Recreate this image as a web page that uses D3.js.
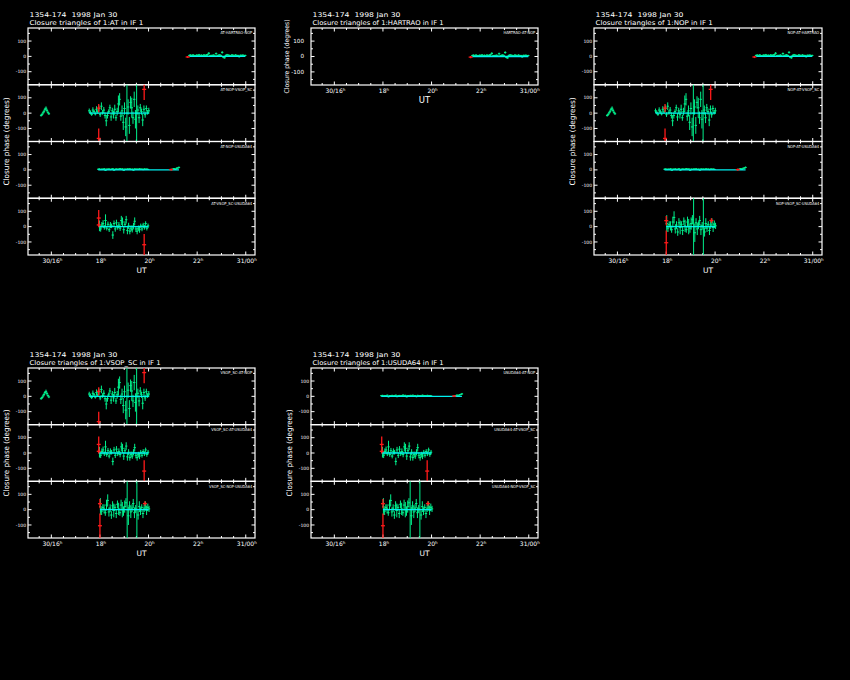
<!DOCTYPE html>
<html><head><meta charset="utf-8">
<script src="https://cdn.jsdelivr.net/npm/d3@7"></script>
<style>body{margin:0;background:#000}svg{display:block}text{font-family:"DejaVu Sans",sans-serif;fill:#fff}</style>
</head><body><svg id="c" width="850" height="680"></svg>
<script>
// ---------------- data ----------------
const source = "1354-174";
const obsDate = "1998 Jan 30";
const refStations = ["AT", "HARTRAO", "NOP", "VSOP_SC", "USUDA64"];
const xTickVals = [16, 18, 20, 22, 24];
const xTickLabels = ["30/16", "18", "20", "22", "31/00"];
const yTickVals = [100, 0, -100];
const yTickLabels = ["100", "0", "-100"];

// triangle labels per plot page
const panelTriangles = [
  ["AT-HARTRAO-NOP", "AT-NOP-VSOP_SC", "AT-NOP-USUDA64", "AT-VSOP_SC-USUDA64"],
  ["HARTRAO-AT-NOP"],
  ["NOP-AT-HARTRAO", "NOP-AT-VSOP_SC", "NOP-AT-USUDA64", "NOP-VSOP_SC-USUDA64"],
  ["VSOP_SC-AT-NOP", "VSOP_SC-AT-USUDA64", "VSOP_SC-NOP-USUDA64"],
  ["USUDA64-AT-NOP", "USUDA64-AT-VSOP_SC", "USUDA64-NOP-VSOP_SC"]
];
const panelSets = [["A","B","C","D"], ["A"], ["A","B","C","E"], ["B","D","E"], ["C","D","E"]];

// closure phase points: [UT hours, phase (deg), error (deg)]
const hartGood = [[21.68,6,6],[21.73,8,6],[21.78,4,5],[21.83,9,6],[21.88,5,5],[21.93,3,6],[21.98,8,5],[22.03,6,6],[22.08,10,6],[22.13,5,5],[22.18,7,6],[22.23,4,5],[22.28,9,6],[22.33,6,5],[22.38,8,7],[22.43,10,7],[22.48,20,8],[22.53,4,6],[22.58,6,5],[22.63,5,6],[22.68,8,5],[22.73,3,6],[22.78,18,7],[22.83,4,6],[22.88,7,5],[22.93,9,6],[22.98,5,6],[23.03,26,8],[23.08,-6,6],[23.13,-9,6],[23.18,6,6],[23.23,10,6],[23.28,8,5],[23.33,5,6],[23.38,4,5],[23.43,9,6],[23.48,7,5],[23.53,3,6],[23.58,9,5],[23.63,4,6],[23.68,6,5],[23.73,-2,6],[23.78,7,5],[23.83,5,6],[23.88,8,5],[23.93,4,6],[23.98,6,5]];
const hartFlag = [[21.61,-4,7]];
const hartModel = [[21.68,0],[23.98,0]];

const vsopEarly = [[15.58,-15,8],[15.62,-8,8],[15.66,2,9],[15.70,12,10],[15.74,25,10],[15.78,32,12],[15.82,18,10],[15.86,5,8],[15.90,-4,8]];
const vsopGood = [[17.56,15,15],[17.61,5,12],[17.66,-8,10],[17.71,20,18],[17.76,10,12],[17.81,-5,10],[17.86,25,20],[17.91,8,12],[17.96,30,20],[18.01,-10,15],[18.06,45,25],[18.11,5,15],[18.16,20,20],[18.21,-15,20],[18.26,-50,35],[18.31,-15,20],[18.36,10,15],[18.41,35,20],[18.46,-25,25],[18.51,15,20],[18.56,-10,25],[18.61,25,30],[18.66,-30,20],[18.71,10,25],[18.76,60,55],[18.81,90,40],[18.86,-20,30],[18.91,15,35],[18.96,-60,50],[19.01,30,40],[19.06,-90,60],[19.11,0,400],[19.16,40,50],[19.21,-80,55],[19.26,70,40],[19.31,35,65],[19.36,-30,40],[19.41,90,50],[19.46,-40,60],[19.51,0,400],[19.56,20,30],[19.61,-30,35],[19.66,35,25],[19.71,10,20],[19.76,-45,40],[19.81,25,25],[19.86,-10,20],[19.91,30,20],[19.96,5,15],[20.01,15,20]];
const vsopFlag = [[17.95,33,27],[17.95,-165,65],[19.82,155,70]];
const vsopModel = [[17.56,0],[20.01,0]];

const usudaGood = [[17.93,4,4],[17.98,6,4],[18.03,2,3],[18.08,5,4],[18.13,3,4],[18.18,7,4],[18.23,-3,4],[18.28,5,3],[18.33,4,4],[18.38,6,4],[18.43,2,4],[18.48,5,3],[18.53,7,4],[18.58,-2,4],[18.63,4,4],[18.68,6,3],[18.73,3,4],[18.78,5,4],[18.83,8,4],[18.88,4,3],[18.93,6,4],[18.98,-3,4],[19.03,5,4],[19.08,3,3],[19.13,6,4],[19.18,4,4],[19.23,7,4],[19.28,2,3],[19.33,5,4],[19.38,-2,4],[19.43,6,4],[19.48,4,3],[19.53,5,4],[19.58,3,4],[19.63,7,4],[19.68,4,3],[19.73,5,4],[19.78,2,4],[19.83,6,4],[19.88,4,3],[19.93,5,4],[19.98,3,4],[21.00,5,4],[21.05,8,4],[21.10,4,4],[21.15,10,5],[21.20,12,5],[21.25,16,6]];
const usudaFlag = [[20.93,2,7]];
const usudaModel = [[17.93,0],[21.25,0]];

const vsUsGood = [[17.98,5,35],[18.03,-15,18],[18.08,10,20],[18.13,20,22],[18.18,-5,15],[18.23,40,40],[18.28,-10,15],[18.33,15,18],[18.38,-20,15],[18.43,10,20],[18.48,5,15],[18.53,-55,25],[18.58,20,20],[18.63,-15,18],[18.68,25,20],[18.73,-5,15],[18.78,10,20],[18.83,-10,18],[18.88,40,30],[18.93,30,30],[18.98,-20,25],[19.03,15,20],[19.08,45,25],[19.13,-25,25],[19.18,5,20],[19.23,-30,20],[19.28,-10,20],[19.33,-20,18],[19.38,5,20],[19.43,35,25],[19.48,-15,20],[19.53,-30,20],[19.58,-10,18],[19.63,-20,20],[19.68,5,15],[19.73,-15,15],[19.78,10,15],[19.83,-5,15],[19.88,20,15],[19.93,-10,15],[19.98,5,15]];
const vsUsFlag = [[17.95,56,52],[17.95,11,15],[19.82,-118,70]];
const vsUsModel = [[17.95,0],[19.99,0]];

const mopVsGood = [[18.02,20,55],[18.07,-10,25],[18.12,15,20],[18.17,5,30],[18.22,-20,20],[18.27,30,35],[18.32,60,40],[18.37,-15,30],[18.42,10,25],[18.47,-35,25],[18.52,25,30],[18.57,-5,45],[18.62,15,20],[18.67,-25,30],[18.72,35,25],[18.77,5,40],[18.82,-20,20],[18.87,30,35],[18.92,0,50],[18.97,-10,30],[19.02,20,40],[19.07,45,30],[19.12,0,400],[19.17,-40,60],[19.22,25,30],[19.27,-15,40],[19.32,10,25],[19.37,40,30],[19.42,-20,35],[19.47,5,25],[19.52,0,400],[19.57,-35,30],[19.62,20,35],[19.67,-10,25],[19.72,15,20],[19.77,-25,30],[19.82,10,25],[19.87,30,25],[19.92,-5,30],[19.97,15,25],[20.02,5,20]];
const mopVsFlag = [[18.0,39,30],[18.0,-105,80],[19.85,40,15]];
const mopVsModel = [[18.0,0],[20.0,0]];

const datasets = {
  A: {good: hartGood, early: [], flag: hartFlag, model: hartModel},
  B: {good: vsopGood, early: vsopEarly, flag: vsopFlag, model: vsopModel},
  C: {good: usudaGood, early: [], flag: usudaFlag, model: usudaModel},
  D: {good: vsUsGood, early: [], flag: vsUsFlag, model: vsUsModel},
  E: {good: mopVsGood, early: [], flag: mopVsFlag, model: mopVsModel}
};

// ---------------- layout ----------------
const layout = [
  {x: 28,  y: 28,  w: 227, h: 227, big: false, ylabLen: 88, ylabDx: 21.5},
  {x: 311, y: 28,  w: 227, h: 57,  big: true,  ylabLen: 74, ylabDx: 24},
  {x: 594, y: 28,  w: 228, h: 227, big: false, ylabLen: 88, ylabDx: 21.5},
  {x: 28,  y: 368, w: 227, h: 170, big: false, ylabLen: 87, ylabDx: 21.5},
  {x: 311, y: 368, w: 227, h: 170, big: false, ylabLen: 87, ylabDx: 21.5}
];
const xDomain = [15.04, 24.38];
const yDomain = [-185, 185];
const GREEN = "#00f08c", CYAN = "#00f0f0", RED = "#ff1a1a";

const svg = d3.select("#c");
svg.append("rect").attr("width", 850).attr("height", 680).attr("fill", "#000");

layout.forEach((p, pi) => {
  const g = svg.append("g");
  const x = d3.scaleLinear().domain(xDomain).range([p.x, p.x + p.w]);
  const sets = panelSets[pi];
  const n = sets.length;
  const sh = p.h / n;

  // titles
  g.append("text").attr("x", p.x + 1.5).attr("y", p.y - 11)
    .attr("font-size", 6.5).style("white-space", "pre")
    .attr("textLength", 88).attr("lengthAdjust", "spacingAndGlyphs")
    .text(source + "  " + obsDate);
  const t2 = "Closure triangles of 1:" + refStations[pi] + " in IF 1";
  g.append("text").attr("x", p.x + 1.5).attr("y", p.y - 3.2)
    .attr("font-size", 6.5)
    .attr("textLength", t2.length * 3.45).attr("lengthAdjust", "spacingAndGlyphs")
    .text(t2);

  // y label
  g.append("text")
    .attr("transform", `translate(${p.x - p.ylabDx},${p.y + p.h / 2}) rotate(-90)`)
    .attr("dy", "0.35em")
    .attr("text-anchor", "middle").attr("font-size", p.big ? 6.5 : 7.5)
    .attr("textLength", p.ylabLen).attr("lengthAdjust", "spacingAndGlyphs")
    .text("Closure phase  (degrees)");

  // x tick labels + UT
  xTickVals.forEach((v, i) => {
    const t = g.append("text").attr("x", x(v) + 1).attr("y", p.y + p.h + 8)
      .attr("text-anchor", "middle").attr("font-size", 6);
    t.append("tspan").text(xTickLabels[i]);
    t.append("tspan").attr("font-size", 4).attr("dy", -2.3).text("h");
  });
  g.append("text").attr("x", p.x + p.w / 2).attr("y", p.y + p.h + 18)
    .attr("text-anchor", "middle").attr("font-size", p.big ? 8.5 : 7.5).text("UT");

  const minorX = d3.range(15.5, 24.01, 0.5);

  sets.forEach((key, si) => {
    const top = p.y + si * sh, bot = top + sh;
    const y = d3.scaleLinear().domain(yDomain).range([bot, top]).clamp(true);
    const ds = datasets[key];
    const sg = g.append("g");

    // frame
    sg.append("rect").attr("x", p.x).attr("y", top).attr("width", p.w).attr("height", sh)
      .attr("fill", "none").attr("stroke", "#fff").attr("stroke-width", 1.2);

    // x ticks (top & bottom, inward)
    minorX.forEach(v => {
      const major = xTickVals.includes(v);
      const len = major ? 3.5 : 2;
      sg.append("line").attr("x1", x(v)).attr("x2", x(v)).attr("y1", top).attr("y2", top + len)
        .attr("stroke", "#fff").attr("stroke-width", 1);
      sg.append("line").attr("x1", x(v)).attr("x2", x(v)).attr("y1", bot).attr("y2", bot - len)
        .attr("stroke", "#fff").attr("stroke-width", 1);
    });
    // y ticks
    [-150, -100, -50, 0, 50, 100, 150].forEach(v => {
      const major = yTickVals.includes(v);
      const len = major ? 3.5 : 2;
      sg.append("line").attr("x1", p.x).attr("x2", p.x + len).attr("y1", y(v)).attr("y2", y(v))
        .attr("stroke", "#fff").attr("stroke-width", 1);
      sg.append("line").attr("x1", p.x + p.w).attr("x2", p.x + p.w - len).attr("y1", y(v)).attr("y2", y(v))
        .attr("stroke", "#fff").attr("stroke-width", 1);
    });
    yTickVals.forEach((v, i) => {
      sg.append("text").attr("x", p.big ? p.x - 7 : p.x - 2).attr("y", y(v))
        .attr("dy", "0.35em").attr("text-anchor", "end")
        .attr("font-size", p.big ? 5.6 : 4.5).text(yTickLabels[i]);
    });

    // triangle label
    const lab = panelTriangles[pi][si];
    sg.append("text").attr("x", p.x + p.w - 2.8).attr("y", top + 6.3)
      .attr("text-anchor", "end").attr("font-size", 4)
      .attr("textLength", lab.length * 2.27).attr("lengthAdjust", "spacingAndGlyphs")
      .text(lab);

    // points with error bars
    const drawPts = (pts, color, half, sw) => {
      const pg = sg.append("g").attr("stroke", color).attr("stroke-width", sw);
      pg.selectAll("line.v").data(pts).join("line").attr("class", "v")
        .attr("x1", d => x(d[0])).attr("x2", d => x(d[0]))
        .attr("y1", d => y(d[1] - d[2])).attr("y2", d => y(d[1] + d[2]));
      pg.selectAll("line.h").data(pts.filter(d => d[1] > yDomain[0] && d[1] < yDomain[1]))
        .join("line").attr("class", "h")
        .attr("x1", d => x(d[0]) - half).attr("x2", d => x(d[0]) + half)
        .attr("y1", d => y(d[1])).attr("y2", d => y(d[1]));
    };
    drawPts(ds.early, GREEN, 1.2, 1);
    drawPts(ds.good, GREEN, 1.2, 1);
    sg.append("path").datum(ds.model)
      .attr("d", d3.line().x(d => x(d[0])).y(d => y(d[1])))
      .attr("fill", "none").attr("stroke", CYAN).attr("stroke-width", 1.3);
    drawPts(ds.flag, RED, 2, 1.3);
  });
});
</script>
</body></html>
